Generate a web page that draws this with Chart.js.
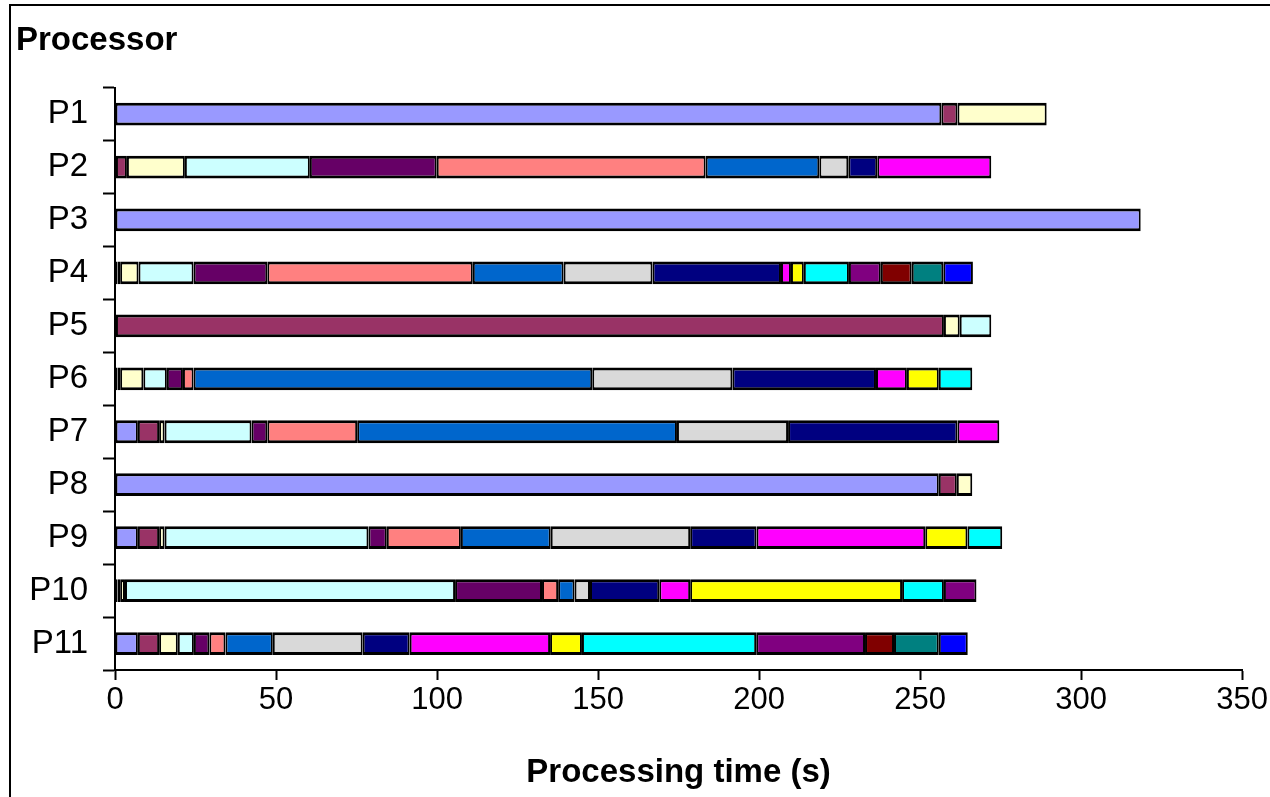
<!DOCTYPE html>
<html>
<head>
<meta charset="utf-8">
<title>Processing time per processor</title>
<script src="https://cdn.jsdelivr.net/npm/chart.js@4.4.1/dist/chart.umd.min.js"></script>
<style>
    html, body { margin: 0; padding: 0; background: #fff; overflow: hidden; }
    #wrap { position: relative; width: 1270px; height: 797px; }
    #frame {
        position: absolute; left: 9px; top: 4px; width: 1400px; height: 1000px;
        border: 2px solid #000; pointer-events: none;
    }
</style>
</head>
<body>
<div id="wrap">
    <canvas id="chartCanvas"></canvas>
    <div id="frame"></div>
</div>
<script>
const processors = ["P1", "P2", "P3", "P4", "P5", "P6", "P7", "P8", "P9", "P10", "P11"];

// time (s) spent on each task, one value per processor P1..P11
const task1  = [256.6, 0.3, 318.5, 0.8, 0.3, 0.8, 7.1, 255.8, 7.1, 0.8, 7.1];
const task2  = [5.0, 3.4, 0, 0.8, 257.1, 0.8, 6.6, 5.6, 6.6, 0.8, 6.6];
const task3  = [27.7, 18.0, 0, 5.7, 4.9, 7.2, 1.7, 4.8, 1.7, 1.5, 5.8];
const task4  = [0, 38.8, 0, 17.1, 9.8, 7.3, 27.0, 0, 63.3, 102.5, 5.0];
const task5  = [0, 39.4, 0, 22.9, 0, 5.0, 4.9, 0, 5.7, 27.0, 4.8];
const task6  = [0, 83.5, 0, 63.8, 0, 3.3, 27.9, 0, 23.0, 5.0, 5.0];
const task7  = [0, 35.3, 0, 28.2, 0, 123.8, 99.3, 0, 27.9, 5.1, 14.7];
const task8  = [0, 9.0, 0, 27.6, 0, 43.5, 34.5, 0, 43.3, 4.8, 27.9];
const task9  = [0, 9.0, 0, 39.9, 0, 44.6, 52.6, 0, 20.6, 21.5, 14.6];
const task10 = [0, 35.4, 0, 3.1, 0, 9.6, 13.0, 0, 52.4, 9.6, 43.6];
const task11 = [0, 0, 0, 4.0, 0, 9.9, 0, 0, 13.1, 65.8, 9.9];
const task12 = [0, 0, 0, 14.0, 0, 10.4, 0, 0, 10.8, 13.0, 54.1];
const task13 = [0, 0, 0, 9.9, 0, 0, 0, 0, 0, 10.1, 33.8];
const task14 = [0, 0, 0, 9.6, 0, 0, 0, 0, 0, 0, 9.0];
const task15 = [0, 0, 0, 9.8, 0, 0, 0, 0, 0, 0, 13.9];
const task16 = [0, 0, 0, 9.2, 0, 0, 0, 0, 0, 0, 9.0];

const tasks = [task1, task2, task3, task4, task5, task6, task7, task8,
               task9, task10, task11, task12, task13, task14, task15, task16];

const taskColors = ["#9999FF", "#993366", "#FFFFCC", "#CCFFFF", "#660066", "#FF8080",
                    "#0066CC", "#D9D9D9", "#000080", "#FF00FF", "#FFFF00", "#00FFFF",
                    "#800080", "#800000", "#008080", "#0000FF"];

const xMin = 0;
const xMax = 350;
const xStep = 50;

const FONT = "'Liberation Sans', Arial, sans-serif";

const datasets = tasks.map((values, i) => ({
    label: "Task " + (i + 1),
    data: values,
    backgroundColor: taskColors[i],
    borderColor: "#000000",
    borderWidth: { top: 3, bottom: 3, left: 2, right: 2 },
    borderSkipped: false,
    barPercentage: 0.43,
    categoryPercentage: 1.0
}));

const ctx = document.getElementById("chartCanvas").getContext("2d");
const chart = new Chart(ctx, {
    type: "bar",
    data: {
        labels: processors,
        datasets: datasets
    },
    options: {
        indexAxis: "y",
        responsive: true,
        maintainAspectRatio: false,
        animation: false,
        layout: { padding: { left: 16, right: 27, top: 0, bottom: 0 } },
        plugins: {
            legend: { display: false },
            tooltip: { enabled: false },
            title: {
                display: true,
                text: "Processor",
                align: "start",
                color: "#000",
                font: { family: FONT, size: 33, weight: "bold" },
                padding: { top: 21, bottom: 27 }
            }
        },
        scales: {
            x: {
                stacked: true,
                min: xMin,
                max: xMax,
                ticks: {
                    stepSize: xStep,
                    color: "#000",
                    padding: 2,
                    maxRotation: 0,
                    font: { family: FONT, size: 31 }
                },
                grid: {
                    drawOnChartArea: false,
                    drawTicks: true,
                    tickLength: 10,
                    tickWidth: 2,
                    tickColor: "#000"
                },
                border: { display: true, color: "#000", width: 2 },
                title: {
                    display: true,
                    text: "Processing time (s)",
                    color: "#000",
                    font: { family: FONT, size: 33, weight: "bold" },
                    padding: { top: 0, bottom: 4 }
                },
                afterFit(scale) { scale.height = 127; }
            },
            y: {
                stacked: true,
                ticks: {
                    color: "#000",
                    padding: 15,
                    font: { family: FONT, size: 33 }
                },
                grid: {
                    drawOnChartArea: false,
                    offset: true,
                    tickLength: 12,
                    tickWidth: 2,
                    tickColor: "#000"
                },
                border: { display: true, color: "#000", width: 2 },
                afterFit(scale) { scale.width = 99; }
            }
        }
    }
});
</script>
</body>
</html>
